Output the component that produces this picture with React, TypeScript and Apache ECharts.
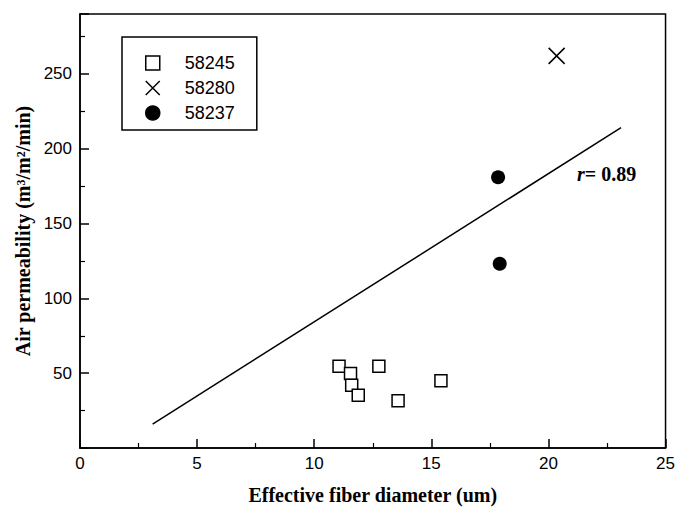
import React, { useEffect, useRef } from "react";
import * as echarts from "echarts";

const seriesNames = ["58245", "58280", "58237"];
const x58245 = [11.06, 11.55, 11.6, 11.88, 12.76, 13.58, 15.41];
const y58245 = [54.7, 49.8, 42, 35.3, 54.7, 31.5, 44.9];
const x58280 = [20.35];
const y58280 = [262];
const x58237 = [17.92, 17.85];
const y58237 = [123.1, 180.9];
const fitX = [3.1, 23.1];
const fitY = [16, 214];
const xTitle = "Effective fiber diameter (um)";
const yTitle = "Air permeability (m³/m²/min)";
const rLabel = "= 0.89";

const pairs = (xs: number[], ys: number[]) => xs.map((x, i) => [x, ys[i]]);

export default function App() {
  const ref = useRef<HTMLDivElement>(null);
  useEffect(() => {
    if (!ref.current) return;
    const chart = echarts.init(ref.current, null, { renderer: "svg" });
    const sans = "Liberation Sans";
    const serif = "Liberation Serif";
    chart.setOption({
      animation: false,
      backgroundColor: "#fff",
      grid: {
        left: 80,
        right: 11,
        top: 14,
        bottom: 64,
        show: true,
        borderColor: "#000",
        borderWidth: 1.5,
        containLabel: false,
      },
      legend: {
        data: seriesNames,
        orient: "vertical",
        left: 122,
        top: 37,
        borderColor: "#000",
        borderWidth: 1.5,
        padding: [17, 22, 8, 23],
        itemWidth: 14,
        itemHeight: 14,
        itemGap: 7,
        itemStyle: { borderWidth: 1.5 },
        textStyle: {
          fontSize: 18,
          fontFamily: sans,
          color: "#000",
          padding: [0, 0, 0, 20],
        },
        selectedMode: false,
      },
      xAxis: {
        type: "value",
        min: 0,
        max: 25,
        interval: 5,
        name: xTitle,
        nameLocation: "middle",
        nameGap: 37,
        nameTextStyle: { fontFamily: serif, fontWeight: "bold", fontSize: 20, color: "#000" },
        axisLine: { show: true, lineStyle: { color: "#000", width: 1.5 } },
        axisTick: { show: true, inside: true, length: 9, lineStyle: { color: "#000", width: 1.5 } },
        minorTick: { show: true, splitNumber: 2, length: 5, lineStyle: { color: "#000", width: 1.2 } },
        splitLine: { show: false },
        axisLabel: { fontSize: 17, fontFamily: sans, color: "#000", margin: 7 },
      },
      yAxis: {
        type: "value",
        min: 0,
        max: 290,
        interval: 50,
        name: yTitle,
        nameLocation: "middle",
        nameRotate: 90,
        nameGap: 43,
        nameTextStyle: { fontFamily: serif, fontWeight: "bold", fontSize: 20, color: "#000" },
        axisLine: { show: true, lineStyle: { color: "#000", width: 1.5 } },
        axisTick: { show: true, inside: true, length: 9, lineStyle: { color: "#000", width: 1.5 } },
        minorTick: { show: true, splitNumber: 2, length: 5, lineStyle: { color: "#000", width: 1.2 } },
        splitLine: { show: false },
        axisLabel: {
          fontSize: 17,
          fontFamily: sans,
          color: "#000",
          margin: 8,
          showMinLabel: false,
          showMaxLabel: false,
        },
      },
      series: [
        {
          name: "fit",
          type: "line",
          data: pairs(fitX, fitY),
          symbol: "none",
          lineStyle: { color: "#000", width: 1.5 },
          z: 1,
        },
        {
          name: seriesNames[0],
          type: "scatter",
          data: pairs(x58245, y58245),
          symbol: "rect",
          symbolSize: 12,
          itemStyle: { color: "#fff", borderColor: "#000", borderWidth: 1.5, opacity: 1 },
          z: 3,
        },
        {
          name: seriesNames[1],
          type: "scatter",
          data: pairs(x58280, y58280),
          symbol: "path://M0,0L10,10M10,0L0,10",
          symbolSize: 16,
          itemStyle: { color: "#000", borderColor: "#000", borderWidth: 1.5, opacity: 1 },
          z: 3,
        },
        {
          name: seriesNames[2],
          type: "scatter",
          data: pairs(x58237, y58237),
          symbol: "circle",
          symbolSize: 14,
          itemStyle: { color: "#000", borderColor: "#000", borderWidth: 0, opacity: 1 },
          z: 3,
        },
      ],
      graphic: [
        {
          type: "text",
          left: 577,
          top: 164,
          style: {
            text: "{i|r}{b|" + rLabel + "}",
            rich: {
              i: { fontFamily: serif, fontStyle: "italic", fontWeight: "bold", fontSize: 20, fill: "#000" },
              b: { fontFamily: serif, fontWeight: "bold", fontSize: 20, fill: "#000" },
            },
          },
        },
      ],
    });
    return () => chart.dispose();
  }, []);
  return (
    <div
      ref={ref}
      style={{ position: "absolute", left: 0, top: 0, width: 678, height: 512 }}
    />
  );
}
